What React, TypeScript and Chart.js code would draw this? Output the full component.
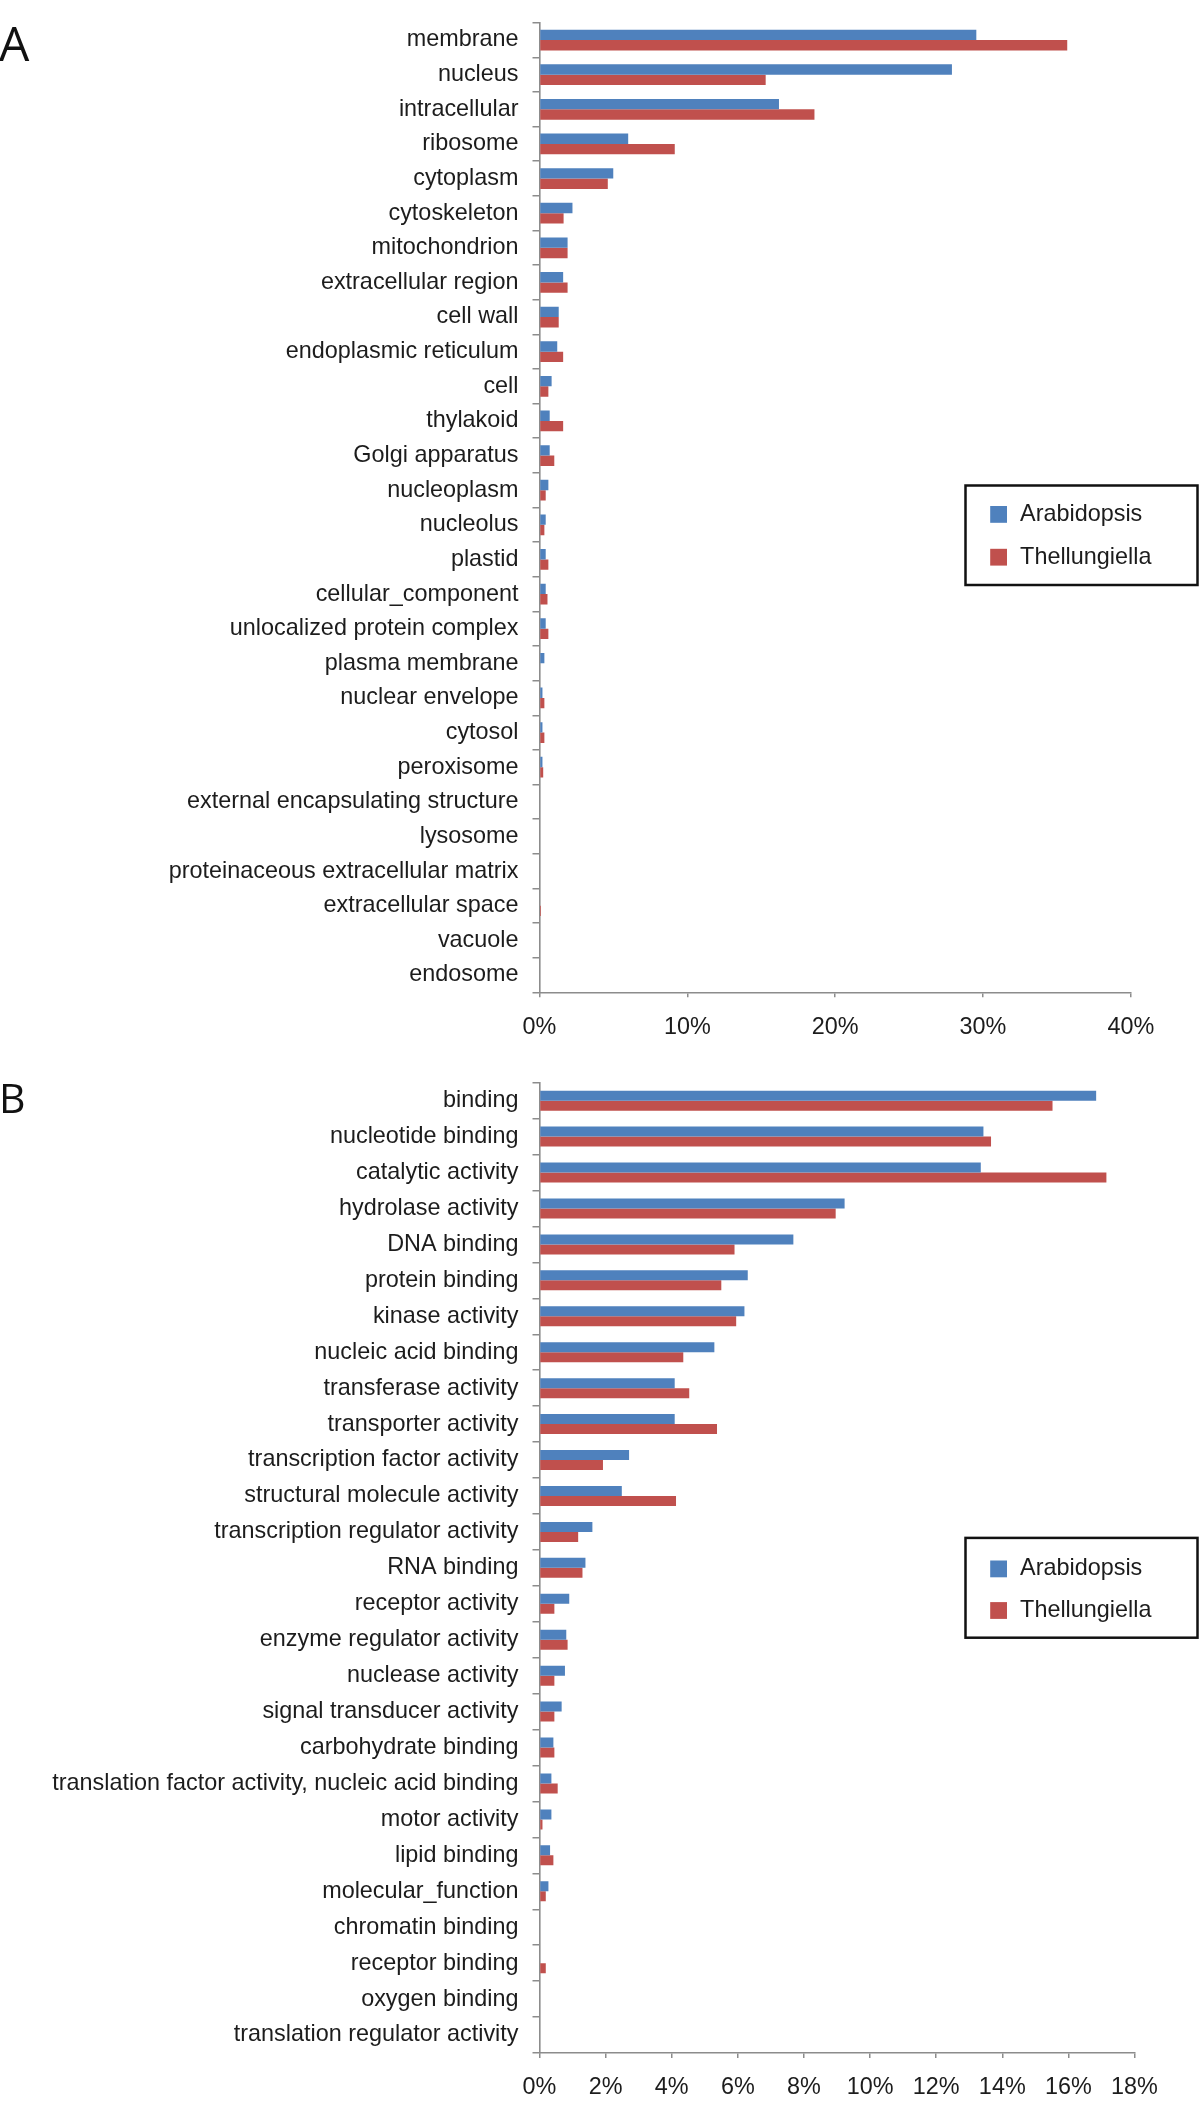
import React, { useEffect, useRef } from "react";
import { Chart, registerables } from "chart.js";

Chart.register(...registerables);

// ---------- Panel A: cellular component ----------
const componentCategories = [
  "membrane", "nucleus", "intracellular", "ribosome", "cytoplasm", "cytoskeleton",
  "mitochondrion", "extracellular region", "cell wall", "endoplasmic reticulum", "cell",
  "thylakoid", "Golgi apparatus", "nucleoplasm", "nucleolus", "plastid",
  "cellular_component", "unlocalized protein complex", "plasma membrane",
  "nuclear envelope", "cytosol", "peroxisome", "external encapsulating structure",
  "lysosome", "proteinaceous extracellular matrix", "extracellular space", "vacuole",
  "endosome",
];
const componentArabidopsis = [
  29.55, 27.9, 16.2, 6.0, 4.99, 2.23, 1.9, 1.6, 1.3, 1.2, 0.82, 0.69, 0.69, 0.6,
  0.42, 0.42, 0.42, 0.42, 0.33, 0.2, 0.2, 0.2, 0, 0, 0, 0, 0, 0,
];
const componentThellungiella = [
  35.7, 15.3, 18.6, 9.15, 4.62, 1.63, 1.9, 1.9, 1.3, 1.6, 0.6, 1.6, 1.0, 0.42,
  0.33, 0.6, 0.54, 0.6, 0, 0.33, 0.33, 0.25, 0, 0, 0, 0.1, 0, 0,
];
const componentTickLabels = ["0%", "10%", "20%", "30%", "40%"];

// ---------- Panel B: molecular function ----------
const functionCategories = [
  "binding", "nucleotide binding", "catalytic activity", "hydrolase activity",
  "DNA binding", "protein binding", "kinase activity", "nucleic acid binding",
  "transferase activity", "transporter activity", "transcription factor activity",
  "structural molecule activity", "transcription regulator activity", "RNA binding",
  "receptor activity", "enzyme regulator activity", "nuclease activity",
  "signal transducer activity", "carbohydrate binding",
  "translation factor activity, nucleic acid binding", "motor activity",
  "lipid binding", "molecular_function", "chromatin binding", "receptor binding",
  "oxygen binding", "translation regulator activity",
];
const functionArabidopsis = [
  16.84, 13.43, 13.35, 9.23, 7.68, 6.3, 6.2, 5.29, 4.09, 4.09, 2.71, 2.49, 1.6,
  1.39, 0.9, 0.81, 0.77, 0.67, 0.42, 0.36, 0.36, 0.32, 0.27, 0, 0, 0, 0,
];
const functionThellungiella = [
  15.52, 13.66, 17.15, 8.96, 5.9, 5.5, 5.95, 4.35, 4.53, 5.37, 1.92, 4.13, 1.17,
  1.3, 0.45, 0.85, 0.45, 0.45, 0.45, 0.55, 0.09, 0.42, 0.19, 0, 0.19, 0, 0,
];
const functionTickLabels = ["0%", "2%", "4%", "6%", "8%", "10%", "12%", "14%", "16%", "18%"];

const seriesNames = ["Arabidopsis", "Thellungiella"];
const seriesColors = ["#4F81BD", "#C0504D"];

const FONT = '"Liberation Sans", Arial, Helvetica, sans-serif';
const FONT_SIZE = 23.4;
const AXIS = "#8c8c8c";
const TEXT = "#1c1c1c";

type LegendBox = { x: number; y: number; w: number; h: number; rows: number[] };

type PanelProps = {
  top: number;
  height: number;
  padTop: number;
  padBottom: number;
  plotRight: number;
  categories: string[];
  seriesA: number[];
  seriesT: number[];
  tickLabels: string[];
  xMax: number;
  xStep: number;
  catPct: number;
  legend: LegendBox;
  letter: string;
  letterSize: number;
  letterBaseline: number;
};

function Panel(p: PanelProps) {
  const ref = useRef<HTMLCanvasElement>(null);

  useEffect(() => {
    const canvas = ref.current;
    if (!canvas) return;

    const overlay = {
      id: "overlay" + p.letter,
      afterDraw(chart: any) {
        const ctx = chart.ctx as CanvasRenderingContext2D;
        ctx.save();
        const L = p.legend;
        ctx.lineWidth = 2.5;
        ctx.strokeStyle = "#111";
        ctx.strokeRect(L.x, L.y, L.w, L.h);
        seriesNames.forEach((name, i) => {
          const cy = L.y + L.rows[i];
          ctx.fillStyle = seriesColors[i];
          ctx.fillRect(L.x + 24.7, cy - 8.4, 16.8, 16.8);
          ctx.fillStyle = TEXT;
          ctx.font = `${FONT_SIZE}px ${FONT}`;
          ctx.textBaseline = "middle";
          ctx.textAlign = "left";
          ctx.fillText(name, L.x + 54.6, cy);
        });
        ctx.font = `${p.letterSize}px "Open Sans", Lato, sans-serif`;
        ctx.textBaseline = "alphabetic";
        ctx.textAlign = "left";
        ctx.fillStyle = "#111";
        ctx.fillText(p.letter, -1, p.letterBaseline);
        ctx.restore();
      },
    };

    const chart = new Chart(canvas, {
      type: "bar",
      data: {
        labels: p.categories,
        datasets: [
          { label: seriesNames[0], data: p.seriesA, backgroundColor: seriesColors[0], borderWidth: 0 },
          { label: seriesNames[1], data: p.seriesT, backgroundColor: seriesColors[1], borderWidth: 0 },
        ],
      },
      options: {
        indexAxis: "y",
        responsive: false,
        animation: false,
        devicePixelRatio: 1,
        categoryPercentage: p.catPct,
        barPercentage: 1,
        layout: {
          padding: { top: p.padTop, bottom: p.padBottom, left: 0, right: 1200 - p.plotRight },
        },
        plugins: { legend: { display: false }, tooltip: { enabled: false } },
        scales: {
          x: {
            type: "linear",
            min: 0,
            max: p.xMax,
            ticks: {
              stepSize: p.xStep,
              autoSkip: false,
              maxRotation: 0,
              padding: 16,
              color: TEXT,
              font: { size: FONT_SIZE, family: FONT },
              callback: (_v: any, i: number) => p.tickLabels[i],
            },
            grid: { drawOnChartArea: false, drawTicks: true, tickLength: 5, color: AXIS, lineWidth: 1.5 },
            border: { color: AXIS, width: 1.6 },
            afterFit: (s: any) => {
              s.height = 50;
            },
          },
          y: {
            type: "category",
            ticks: {
              autoSkip: false,
              padding: 14,
              color: TEXT,
              font: { size: FONT_SIZE, family: FONT },
            },
            grid: { drawOnChartArea: false, drawTicks: true, tickLength: 7, color: AXIS, lineWidth: 1.5, offset: true },
            border: { color: AXIS, width: 1.6 },
            afterFit: (s: any) => {
              s.width = 539.5;
              s.paddingTop = 0;
              s.paddingBottom = 0;
            },
          },
        },
      } as any,
      plugins: [overlay],
    });
    return () => chart.destroy();
  }, []);

  return (
    <div style={{ position: "absolute", left: 0, top: p.top, width: 1200, height: p.height }}>
      <canvas
        ref={ref}
        width={1200}
        height={p.height}
        style={{ width: "1200px", height: p.height + "px", display: "block" }}
      />
    </div>
  );
}

export default function App() {
  return (
    <div
      style={{
        position: "absolute",
        left: 0,
        top: 0,
        width: 1200,
        height: 2123,
        overflow: "hidden",
        background: "#fff",
      }}
    >
      <Panel
        top={0}
        height={1060}
        padTop={22.7}
        padBottom={17.7}
        plotRight={1130.8}
        categories={componentCategories}
        seriesA={componentArabidopsis}
        seriesT={componentThellungiella}
        tickLabels={componentTickLabels}
        xMax={40}
        xStep={10}
        catPct={0.6}
        legend={{ x: 965.5, y: 485.5, w: 232, h: 99.5, rows: [28.9, 71.7] }}
        letter="A"
        letterSize={48}
        letterBaseline={61}
      />
      <Panel
        top={1060}
        height={1063}
        padTop={22.7}
        padBottom={20}
        plotRight={1134.5}
        categories={functionCategories}
        seriesA={functionArabidopsis}
        seriesT={functionThellungiella}
        tickLabels={functionTickLabels}
        xMax={18}
        xStep={2}
        catPct={0.556}
        legend={{ x: 965.5, y: 477.9, w: 232, h: 99.8, rows: [31, 72.6] }}
        letter="B"
        letterSize={41}
        letterBaseline={53.3}
      />
    </div>
  );
}
